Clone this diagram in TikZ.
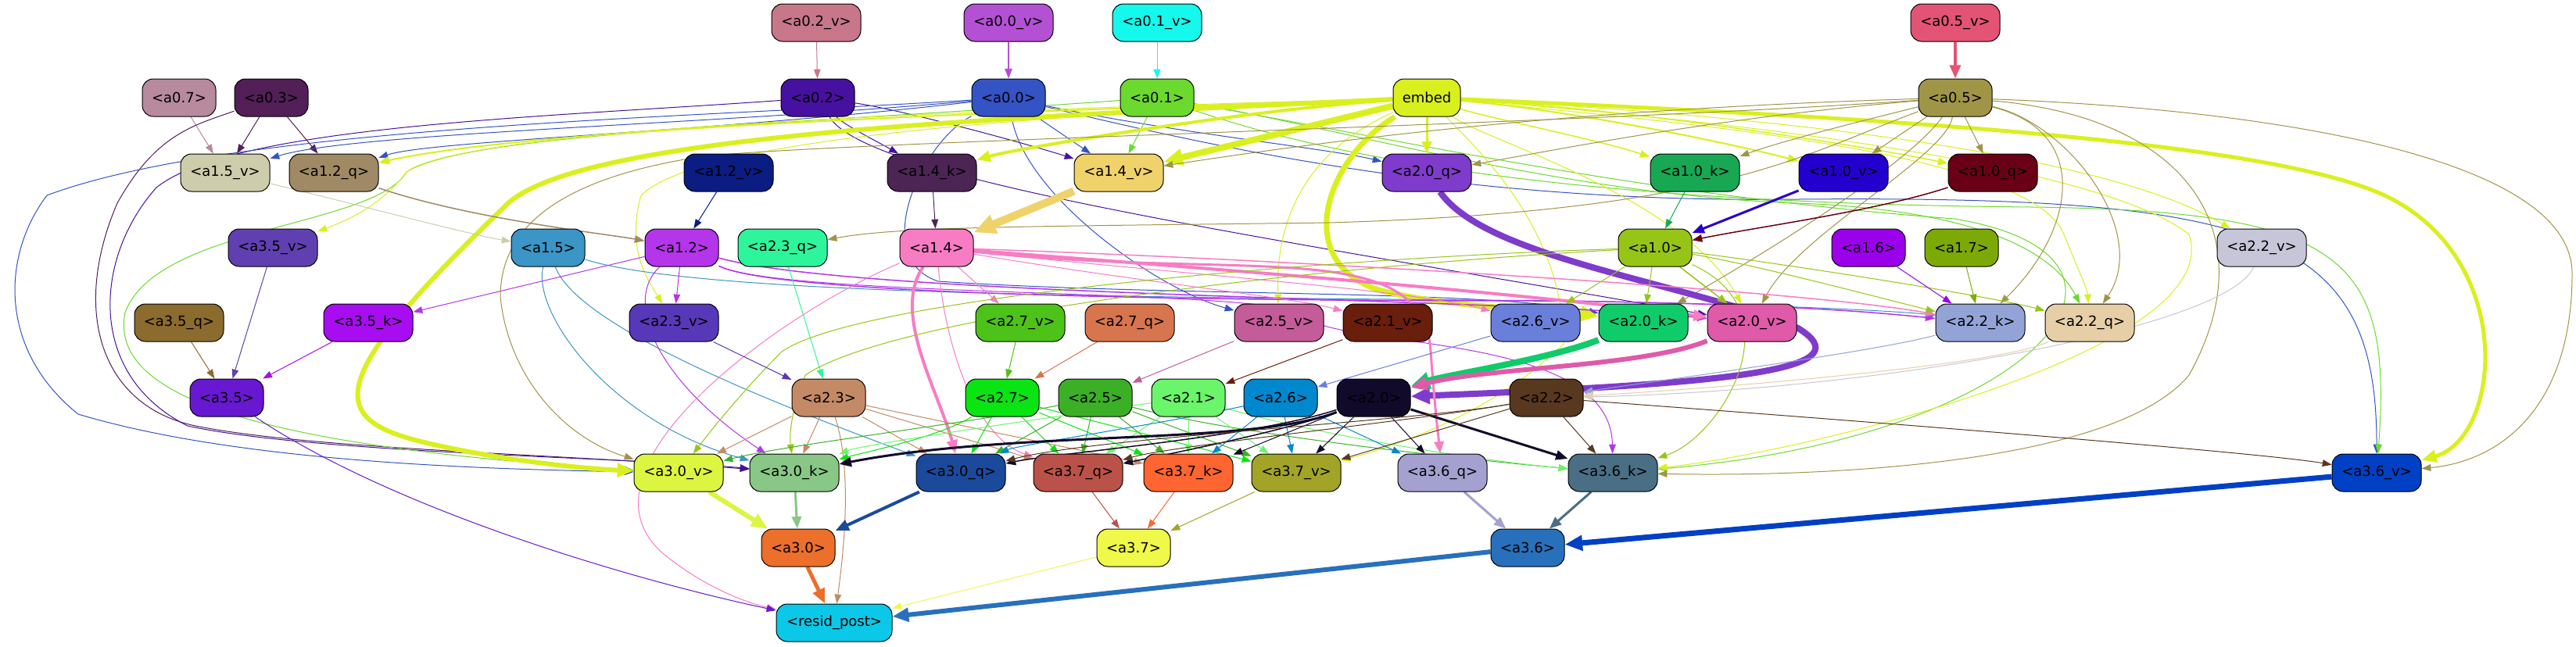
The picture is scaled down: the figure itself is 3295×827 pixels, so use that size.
\documentclass[tikz,border=0pt]{standalone}
\usepackage{fontspec}
\setmainfont{DejaVu Sans}
\usetikzlibrary{arrows.meta,backgrounds}
\definecolor{ca02v}{HTML}{C8768A}\definecolor{ca00v}{HTML}{B450D4}\definecolor{ca01v}{HTML}{15F8EC}\definecolor{ca05v}{HTML}{E35474}
\definecolor{ca07}{HTML}{B88A9E}\definecolor{ca03}{HTML}{521F57}\definecolor{ca02}{HTML}{4611A0}\definecolor{ca00}{HTML}{3453C4}
\definecolor{ca01}{HTML}{6CD92E}\definecolor{cemb}{HTML}{D9F01E}\definecolor{ca05}{HTML}{A09546}
\definecolor{ca15v}{HTML}{CECDAB}\definecolor{ca12q}{HTML}{A08965}\definecolor{ca12v}{HTML}{0B1C83}\definecolor{ca14k}{HTML}{4C2555}
\definecolor{ca14v}{HTML}{F0D26B}\definecolor{ca20q}{HTML}{7F3BCB}\definecolor{ca10k}{HTML}{18A853}\definecolor{ca10v}{HTML}{2400CF}
\definecolor{ca10q}{HTML}{6A0015}\definecolor{ca35v}{HTML}{6040B0}\definecolor{ca15}{HTML}{3B95C6}\definecolor{ca12}{HTML}{B535EA}
\definecolor{ca23q}{HTML}{2EF59B}\definecolor{ca14}{HTML}{F87CC4}\definecolor{ca10}{HTML}{97C516}\definecolor{ca16}{HTML}{9A00EA}
\definecolor{ca17}{HTML}{7DA907}\definecolor{ca22v}{HTML}{C6C6D8}\definecolor{ca35q}{HTML}{8C6B2F}\definecolor{ca35k}{HTML}{A70DF0}
\definecolor{ca23v}{HTML}{5738B8}\definecolor{ca27v}{HTML}{4DC218}\definecolor{ca27q}{HTML}{D7754E}\definecolor{ca25v}{HTML}{C35C98}
\definecolor{ca21v}{HTML}{6A1E0C}\definecolor{ca26v}{HTML}{6A7FDA}\definecolor{ca20k}{HTML}{10CB6A}\definecolor{ca20v}{HTML}{DF5AA9}
\definecolor{ca22k}{HTML}{93A3D6}\definecolor{ca22q}{HTML}{E6CFA7}\definecolor{ca35}{HTML}{6718D0}\definecolor{ca23}{HTML}{C48A66}
\definecolor{ca27}{HTML}{0AE412}\definecolor{ca25}{HTML}{3BB026}\definecolor{ca21}{HTML}{6AF56A}\definecolor{ca26}{HTML}{0088CF}
\definecolor{ca20}{HTML}{110A2B}\definecolor{ca22}{HTML}{58381E}\definecolor{ca30v}{HTML}{DCF540}\definecolor{ca30k}{HTML}{88C786}
\definecolor{ca30q}{HTML}{1B4A9C}\definecolor{ca37q}{HTML}{BA5249}\definecolor{ca37k}{HTML}{FE6530}\definecolor{ca37v}{HTML}{A2A428}
\definecolor{ca36q}{HTML}{A4A0D0}\definecolor{ca36k}{HTML}{4A6E84}\definecolor{ca36v}{HTML}{0040C4}\definecolor{ca30}{HTML}{EC6F2B}
\definecolor{ca37}{HTML}{F0F84A}\definecolor{ca36}{HTML}{2870BC}\definecolor{cres}{HTML}{0BC8E8}
\tikzset{
 nd/.style={draw=black, line width=0.5pt, rounded corners=7pt, minimum height=24pt, inner sep=0pt, font=\fontsize{9}{10}\selectfont, text=black},
 ns/.style={nd, minimum width=47pt},
 nl/.style={nd, minimum width=57pt},
 ed/.style 2 args={draw=#1, line width=#2*0.5pt, -{Triangle[length=5pt 1.8, width=3.5pt 1.7]}},
}
\newcommand\Est[3]{\draw[ed={c#1}{#3}] (#1) -- (#2);}
\newcommand\Ecv[4]{\draw[ed={c#1}{#3}] (#1) #4 (#2);}
\begin{document}
\begin{tikzpicture}[x=0.5pt,y=-0.5pt]
\useasboundingbox (0,0) rectangle (3295,827);
% row 0
\node[nl,fill=ca02v] (a02v) at (1044,29) {<a0.2\_v>};
\node[nl,fill=ca00v] (a00v) at (1290,29) {<a0.0\_v>};
\node[nl,fill=ca01v] (a01v) at (1480,29) {<a0.1\_v>};
\node[nl,fill=ca05v] (a05v) at (2501,29) {<a0.5\_v>};
% row 1
\node[ns,fill=ca07] (a07) at (229,125) {<a0.7>};
\node[ns,fill=ca03] (a03) at (347,125) {<a0.3>};
\node[ns,fill=ca02] (a02) at (1046,125) {<a0.2>};
\node[ns,fill=ca00] (a00) at (1290,125) {<a0.0>};
\node[ns,fill=ca01] (a01) at (1480,125) {<a0.1>};
\node[nd,minimum width=43pt,fill=cemb] (emb) at (1825,125) {embed};
\node[ns,fill=ca05] (a05) at (2501,125) {<a0.5>};
% row 2
\node[nl,fill=ca15v] (a15v) at (288,221) {<a1.5\_v>};
\node[nl,fill=ca12q] (a12q) at (427,221) {<a1.2\_q>};
\node[nl,fill=ca12v] (a12v) at (932,221) {<a1.2\_v>};
\node[nl,fill=ca14k] (a14k) at (1192,221) {<a1.4\_k>};
\node[nl,fill=ca14v] (a14v) at (1431,221) {<a1.4\_v>};
\node[nl,fill=ca20q] (a20q) at (1825,221) {<a2.0\_q>};
\node[nl,fill=ca10k] (a10k) at (2168,221) {<a1.0\_k>};
\node[nl,fill=ca10v] (a10v) at (2358,221) {<a1.0\_v>};
\node[nl,fill=ca10q] (a10q) at (2549,221) {<a1.0\_q>};
% row 3
\node[nl,fill=ca35v] (a35v) at (349,317) {<a3.5\_v>};
\node[ns,fill=ca15] (a15) at (701,317) {<a1.5>};
\node[ns,fill=ca12] (a12) at (872,317) {<a1.2>};
\node[nl,fill=ca23q] (a23q) at (1001,317) {<a2.3\_q>};
\node[ns,fill=ca14] (a14) at (1198,317) {<a1.4>};
\node[ns,fill=ca10] (a10) at (2117,317) {<a1.0>};
\node[ns,fill=ca16] (a16) at (2390,317) {<a1.6>};
\node[ns,fill=ca17] (a17) at (2509,317) {<a1.7>};
\node[nl,fill=ca22v] (a22v) at (2893,317) {<a2.2\_v>};
% row 4
\node[nl,fill=ca35q] (a35q) at (229,413) {<a3.5\_q>};
\node[nl,fill=ca35k] (a35k) at (471,413) {<a3.5\_k>};
\node[nl,fill=ca23v] (a23v) at (862,413) {<a2.3\_v>};
\node[nl,fill=ca27v] (a27v) at (1305,413) {<a2.7\_v>};
\node[nl,fill=ca27q] (a27q) at (1445,413) {<a2.7\_q>};
\node[nl,fill=ca25v] (a25v) at (1636,413) {<a2.5\_v>};
\node[nl,fill=ca21v] (a21v) at (1775,413) {<a2.1\_v>};
\node[nl,fill=ca26v] (a26v) at (1964,413) {<a2.6\_v>};
\node[nl,fill=ca20k] (a20k) at (2102,413) {<a2.0\_k>};
\node[nl,fill=ca20v] (a20v) at (2241,413) {<a2.0\_v>};
\node[nl,fill=ca22k] (a22k) at (2533,413) {<a2.2\_k>};
\node[nl,fill=ca22q] (a22q) at (2673,413) {<a2.2\_q>};
% row 5
\node[ns,fill=ca35] (a35) at (290,509) {<a3.5>};
\node[ns,fill=ca23] (a23) at (1060,509) {<a2.3>};
\node[ns,fill=ca27] (a27) at (1282,509) {<a2.7>};
\node[ns,fill=ca25] (a25) at (1401,509) {<a2.5>};
\node[ns,fill=ca21] (a21) at (1520,509) {<a2.1>};
\node[ns,fill=ca26] (a26) at (1638,509) {<a2.6>};
\node[ns,fill=ca20] (a20) at (1757,509) {<a2.0>};
\node[ns,fill=ca22] (a22) at (1978,509) {<a2.2>};
% row 6
\node[nl,fill=ca30v] (a30v) at (868,605) {<a3.0\_v>};
\node[nl,fill=ca30k] (a30k) at (1016,605) {<a3.0\_k>};
\node[nl,fill=ca30q] (a30q) at (1229,605) {<a3.0\_q>};
\node[nl,fill=ca37q] (a37q) at (1379,605) {<a3.7\_q>};
\node[nl,fill=ca37k] (a37k) at (1520,605) {<a3.7\_k>};
\node[nl,fill=ca37v] (a37v) at (1658,605) {<a3.7\_v>};
\node[nl,fill=ca36q] (a36q) at (1845,605) {<a3.6\_q>};
\node[nl,fill=ca36k] (a36k) at (2063,605) {<a3.6\_k>};
\node[nl,fill=ca36v] (a36v) at (3040,605) {<a3.6\_v>};
% row 7
\node[ns,fill=ca30] (a30) at (1021,701) {<a3.0>};
\node[ns,fill=ca37] (a37) at (1450,701) {<a3.7>};
\node[ns,fill=ca36] (a36) at (1954,701) {<a3.6>};
% row 8
\node[nd,minimum width=74pt,fill=cres] (res) at (1067,797) {<resid\_post>};
\begin{pgfonlayer}{background}
\fill[white] (0,0) rectangle (3295,827);
% top
\Est{a02v}{a02}{1}
\Est{a00v}{a00}{1.5}
\Est{a01v}{a01}{1}
\Est{a05v}{a05}{4}
\Est{a07}{a15v}{1}
\Est{a03}{a15v}{1}
\Est{a03}{a12q}{1}
\Ecv{a03}{a30k}{1}{.. controls (250,160) and (200,170) .. (150,260) .. controls (90,400) and (130,520) .. (250,545) .. controls (400,575) and (700,580) ..}
% a0.2
\Ecv{a02}{a30k}{1}{.. controls (700,150) and (300,160) .. (200,240) .. controls (120,330) and (110,480) .. (240,545) .. controls (400,580) and (800,585) ..}
\Ecv{a02}{a14k}{1}{.. controls (1080,160) and (1120,180) ..}
\Ecv{a02}{a14v}{1}{.. controls (1150,140) and (1300,180) ..}
\Ecv{a02}{a20v}{1}{.. controls (1110,230) and (1600,300) ..}
% a0.0
\Ecv{a00}{a15v}{1}{.. controls (900,160) and (450,170) ..}
\Ecv{a00}{a12q}{1}{.. controls (900,170) and (550,180) ..}
\Est{a00}{a14v}{1}
\Ecv{a00}{a20q}{1}{.. controls (1500,170) and (1700,190) ..}
\Ecv{a00}{a25v}{1}{.. controls (1310,250) and (1480,370) ..}
\Ecv{a00}{a30v}{1}{.. controls (900,150) and (300,160) .. (60,250) .. controls (0,330) and (0,450) .. (100,530) .. controls (300,590) and (600,600) ..}
\Ecv{a00}{a20k}{1}{.. controls (1180,180) and (1110,330) .. (1200,360) .. controls (1500,380) and (1900,370) ..}
\Ecv{a00}{a36v}{1}{.. controls (1600,200) and (1900,260) .. (2300,255) .. controls (2900,250) and (3040,300) ..}
% a0.1
\Est{a01}{a14v}{1}
\Ecv{a01}{a30v}{1}{.. controls (1000,160) and (600,170) .. (520,220) .. controls (480,290) and (200,290) .. (160,400) .. controls (140,500) and (300,570) ..}
\Ecv{a01}{a22q}{1}{.. controls (1700,160) and (2000,250) .. (2300,260) .. controls (2550,270) and (2630,330) ..}
\Ecv{a01}{a36k}{1}{.. controls (1800,180) and (2100,250) .. (2500,280) .. controls (2800,330) and (2600,560) ..}
\Ecv{a01}{a36v}{1}{.. controls (1700,200) and (2000,260) .. (2600,265) .. controls (3000,270) and (3060,330) ..}
% embed
\Ecv{emb}{a14k}{4}{.. controls (1600,140) and (1300,190) ..}
\Est{emb}{a14v}{8}
\Ecv{emb}{a12q}{2}{.. controls (1400,140) and (700,160) ..}
\Ecv{emb}{a30v}{6}{.. controls (1300,150) and (750,170) .. (650,260) .. controls (400,500) and (420,540) .. (560,570) .. controls (650,590) and (750,600) ..}
\Ecv{emb}{a35v}{1}{.. controls (1300,140) and (600,160) .. (520,220) .. controls (490,260) and (450,280) ..}
\Ecv{emb}{a23v}{1}{.. controls (1400,145) and (900,170) .. (820,250) .. controls (800,320) and (830,360) ..}
\Est{emb}{a20q}{3}
\Ecv{emb}{a10k}{1.5}{.. controls (1900,150) and (2050,180) ..}
\Ecv{emb}{a10v}{2}{.. controls (2000,140) and (2200,180) ..}
\Ecv{emb}{a10q}{1.5}{.. controls (2100,140) and (2400,190) ..}
\Ecv{emb}{a20k}{7}{.. controls (1700,200) and (1650,330) .. (1760,370) .. controls (1850,395) and (1980,395) ..}
\Ecv{emb}{a25v}{1}{.. controls (1700,180) and (1630,250) ..}
\Ecv{emb}{a22v}{1}{.. controls (2300,150) and (2700,200) ..}
\Ecv{emb}{a36v}{5}{.. controls (2400,150) and (2900,180) .. (3050,250) .. controls (3220,330) and (3200,560) ..}
\Ecv{emb}{a22q}{1}{.. controls (2200,160) and (2600,200) .. (2640,300) .. controls (2660,350) and (2670,370) ..}
\Ecv{emb}{a36k}{1}{.. controls (2300,160) and (2700,220) .. (2800,300) .. controls (2850,450) and (2300,580) ..}
\Ecv{emb}{a37v}{1}{.. controls (1900,200) and (2000,300) .. (2000,440) .. controls (1900,540) and (1750,580) ..}
\Ecv{emb}{a20v}{1}{.. controls (1900,180) and (2150,250) ..}
% a0.5
\Ecv{a05}{a10k}{1}{.. controls (2400,150) and (2280,180) ..}
\Est{a05}{a10v}{1}
\Est{a05}{a10q}{1}
\Ecv{a05}{a14v}{1}{.. controls (2000,140) and (1700,180) ..}
\Ecv{a05}{a20q}{1}{.. controls (2200,150) and (2000,190) ..}
\Ecv{a05}{a23q}{1}{.. controls (2300,200) and (2200,270) .. (1700,285) .. controls (1300,290) and (1150,290) ..}
\Ecv{a05}{a30v}{1}{.. controls (2000,160) and (1100,180) .. (900,200) .. controls (700,230) and (640,300) .. (640,380) .. controls (650,480) and (720,560) ..}
\Ecv{a05}{a20k}{1}{.. controls (2450,200) and (2300,300) ..}
\Ecv{a05}{a20v}{1}{.. controls (2490,200) and (2300,300) ..}
\Ecv{a05}{a22q}{1}{.. controls (2650,160) and (2750,300) ..}
\Ecv{a05}{a22k}{1}{.. controls (2680,170) and (2650,300) ..}
\Ecv{a05}{a36k}{1}{.. controls (2800,150) and (2900,300) .. (2800,480) .. controls (2700,600) and (2300,610) ..}
\Ecv{a05}{a36v}{1}{.. controls (2900,140) and (3290,200) .. (3290,350) .. controls (3290,520) and (3200,590) ..}
% row 2 -> 3
\Ecv{a15v}{a15}{1}{.. controls (450,260) and (600,300) ..}
\Ecv{a12q}{a12}{1.5}{.. controls (600,280) and (780,300) ..}
\Est{a12v}{a12}{1}
\Est{a14k}{a14}{1}
\Est{a14v}{a14}{10}
\Ecv{a20q}{a20}{8}{.. controls (1900,330) and (2150,360) .. (2300,420) .. controls (2380,470) and (2250,490) ..}
\Est{a10k}{a10}{1}
\Est{a10v}{a10}{3}
\Ecv{a10q}{a10}{1.5}{.. controls (2400,270) and (2250,290) ..}
% row 3
\Est{a35v}{a35}{1}
\Ecv{a15}{a30k}{1}{.. controls (680,400) and (780,540) ..}
\Ecv{a15}{a30q}{1}{.. controls (740,420) and (1000,520) ..}
\Ecv{a15}{a22k}{1}{.. controls (900,380) and (1500,380) .. (2000,385) .. controls (2300,390) and (2450,400) ..}
\Est{a12}{a23v}{1}
\Est{a12}{a35k}{1}
\Ecv{a12}{a30k}{1}{.. controls (800,380) and (830,480) ..}
\Ecv{a12}{a22k}{1.5}{.. controls (1000,380) and (1600,385) .. (2000,385) .. controls (2300,390) and (2400,400) ..}
\Ecv{a12}{a36k}{1}{.. controls (1000,380) and (1600,370) .. (1660,400) .. controls (1700,450) and (2060,420) ..}
\Ecv{a12}{a20v}{1.5}{.. controls (1100,380) and (1900,380) ..}
\Est{a23q}{a23}{1}
\Est{a14}{a27v}{1}
\Ecv{a14}{a30q}{4}{.. controls (1140,400) and (1200,500) ..}
\Ecv{a14}{a36q}{3}{.. controls (1600,360) and (1820,300) .. (1830,450) .. controls (1835,520) and (1840,560) ..}
\Ecv{a14}{a20v}{4}{.. controls (1500,340) and (1900,370) ..}
\Ecv{a14}{a21v}{1}{.. controls (1450,360) and (1650,380) ..}
\Ecv{a14}{a26v}{1}{.. controls (1500,350) and (1800,370) ..}
\Ecv{a14}{a22k}{1.5}{.. controls (1600,330) and (2300,370) ..}
\Ecv{a14}{res}{1}{.. controls (1000,400) and (720,600) .. (850,710) .. controls (900,750) and (950,770) ..}
\Ecv{a14}{a37q}{1}{.. controls (1210,450) and (1250,560) ..}
\Est{a10}{a20k}{1}
\Est{a10}{a20v}{1.5}
\Est{a10}{a26v}{1}
\Ecv{a10}{a22k}{1}{.. controls (2250,340) and (2400,380) ..}
\Ecv{a10}{a22q}{1}{.. controls (2300,340) and (2550,380) ..}
\Ecv{a10}{a30v}{1}{.. controls (1700,330) and (1100,380) .. (1000,450) .. controls (950,500) and (910,550) ..}
\Ecv{a10}{a30k}{1}{.. controls (1700,340) and (1150,400) .. (1030,480) .. controls (1010,530) and (1010,560) ..}
\Ecv{a10}{a36k}{1}{.. controls (2300,400) and (2200,560) ..}
\Est{a16}{a22k}{1}
\Est{a17}{a22k}{1}
\Ecv{a22v}{a22}{1}{.. controls (2850,420) and (2400,500) ..}
% row 4 -> 5
\Est{a35q}{a35}{1}
\Est{a35k}{a35}{1}
\Est{a23v}{a23}{1}
\Est{a27v}{a27}{1}
\Est{a27q}{a27}{1}
\Est{a25v}{a25}{1}
\Est{a21v}{a21}{1}
\Est{a26v}{a26}{1}
\Ecv{a20k}{a20}{8}{.. controls (1980,460) and (1850,480) ..}
\Ecv{a20v}{a20}{6}{.. controls (2100,470) and (1900,470) ..}
\Ecv{a22k}{a22}{1}{.. controls (2400,450) and (2100,490) ..}
\Ecv{a22q}{a22}{1}{.. controls (2550,470) and (2150,500) ..}
% row 5 -> 6
\Ecv{a35}{res}{1}{.. controls (500,650) and (800,740) ..}
\Est{a23}{a30v}{1}
\Est{a23}{a30k}{1}
\Ecv{a23}{res}{1}{.. controls (1090,600) and (1080,700) ..}
\Est{a23}{a37q}{1}
\Est{a23}{a37k}{1}
\Est{a23}{a30q}{1}
\Ecv{a27}{a30k}{1}{.. controls (1200,560) and (1100,580) ..}
\Est{a27}{a30q}{1}
\Est{a27}{a37q}{1}
\Est{a27}{a37k}{1}
\Est{a27}{a37v}{1}
\Ecv{a25}{a30v}{1}{.. controls (1250,540) and (1000,570) ..}
\Est{a25}{a30q}{1}
\Est{a25}{a37q}{1}
\Est{a25}{a37k}{1}
\Est{a25}{a37v}{1}
\Ecv{a25}{a36k}{1}{.. controls (1600,560) and (1900,590) ..}
\Ecv{a21}{a30k}{1}{.. controls (1300,540) and (1100,570) ..}
\Est{a21}{a37q}{1}
\Est{a21}{a37k}{1}
\Est{a21}{a37v}{1}
\Ecv{a21}{a36k}{1}{.. controls (1700,560) and (1900,590) ..}
\Ecv{a26}{a30q}{1}{.. controls (1500,540) and (1300,570) ..}
\Est{a26}{a37k}{1}
\Est{a26}{a37v}{1}
\Est{a26}{a36q}{1}
\Ecv{a20}{a30k}{3}{.. controls (1600,570) and (1300,550) ..}
\Ecv{a20}{a30q}{1.5}{.. controls (1600,560) and (1350,580) ..}
\Ecv{a20}{a37q}{1.5}{.. controls (1650,550) and (1500,580) ..}
\Est{a20}{a37k}{1}
\Est{a20}{a37v}{1}
\Est{a20}{a36q}{1}
\Est{a20}{a36k}{3}
\Ecv{a22}{a37q}{1}{.. controls (1800,540) and (1500,570) ..}
\Ecv{a22}{a30q}{1}{.. controls (1800,540) and (1400,560) ..}
\Est{a22}{a37v}{1}
\Est{a22}{a36k}{1}
\Ecv{a22}{a36v}{1}{.. controls (2400,540) and (2900,580) ..}
% row 6 -> 7
\Est{a30v}{a30}{6}
\Est{a30k}{a30}{3}
\Est{a30q}{a30}{4}
\Est{a37q}{a37}{1}
\Est{a37k}{a37}{1}
\Est{a37v}{a37}{1}
\Est{a36q}{a36}{3}
\Est{a36k}{a36}{3}
\Est{a36v}{a36}{7}
% row 7 -> 8
\Est{a30}{res}{5}
\Est{a37}{res}{1}
\Est{a36}{res}{6}
\end{pgfonlayer}
\end{tikzpicture}
\end{document}
